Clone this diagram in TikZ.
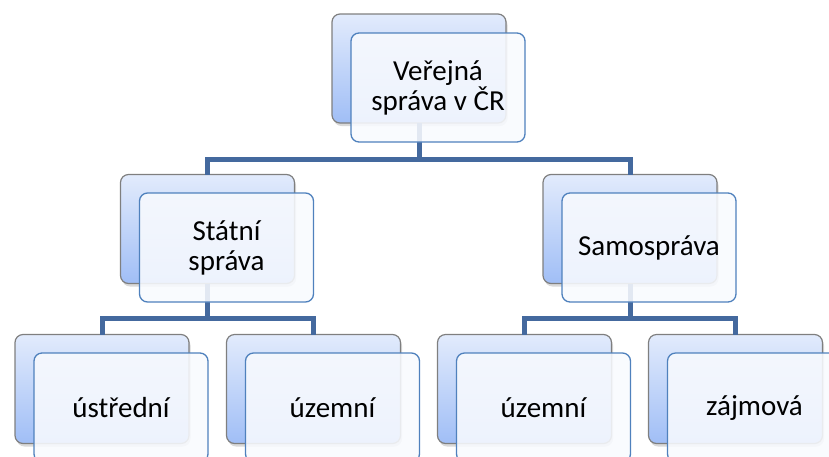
\documentclass[tikz,border=0pt]{standalone}
\usepackage{fontspec}
\setmainfont{Carlito}
\usetikzlibrary{shadows}
\definecolor{linkblue}{HTML}{44699E}
\definecolor{backtop}{HTML}{E2EBFC}
\definecolor{backbot}{HTML}{A0BEF6}
\definecolor{backline}{HTML}{7F7F7F}
\definecolor{frontline}{HTML}{4F81BD}
\definecolor{frontfill}{HTML}{F8FAFE}
\tikzset{
  backbox/.style={draw=backline, line width=1.2pt, rounded corners=8pt,
    top color=backtop, bottom color=backbot,
    drop shadow={shadow xshift=1.5pt, shadow yshift=-3pt, opacity=0.3},
    minimum width=174pt, minimum height=109pt, inner sep=0pt, outer sep=0pt},
  frontbox/.style={draw=frontline, line width=1.3pt, rounded corners=8pt,
    fill=frontfill, fill opacity=0.88, text opacity=1,
    minimum width=174pt, minimum height=109pt, inner sep=0pt, outer sep=0pt,
    align=center, font=\fontsize{29}{30}\selectfont},
  link/.style={draw=linkblue, line width=5pt}
}
\begin{document}
\begin{tikzpicture}[x=1pt,y=-1pt]
\useasboundingbox (0,0) rectangle (829,456);
\clip (0,0) rectangle (829,456);
% back boxes
\node[backbox] (verejnaB) at (419,68.5) {};
\node[backbox] (statniB) at (207.5,229) {};
\node[backbox] (samoB) at (630,229) {};
\node[backbox] (ustredniB) at (102,389) {};
\node[backbox] (uzemniB) at (313.5,389) {};
\node[backbox] (uzemni2B) at (524.5,389) {};
\node[backbox] (zajmovaB) at (735.5,389) {};

% links
\draw[link] (verejnaB.south) -- ++(0,36) coordinate (bar1) -| (statniB.north);
\draw[link] (bar1) -| (samoB.north);
\draw[link] (statniB.south) -- ++(0,35) coordinate (bar2) -| (ustredniB.north);
\draw[link] (bar2) -| (uzemniB.north);
\draw[link] (samoB.south) -- ++(0,35) coordinate (bar3) -| (uzemni2B.north);
\draw[link] (bar3) -| (zajmovaB.north);

% front boxes
\node[frontbox] (verejna) at (438,87.5) {Veřejná\\správa v ČR};
\node[frontbox] (statni) at (226.5,247.5) {Státní\\správa};
\node[frontbox] (samo) at (649,247.5) {Samospráva};
\node[frontbox] (ustredni) at (121,407.5) {ústřední};
\node[frontbox] (uzemni) at (332.5,407.5) {územní};
\node[frontbox] (uzemni2) at (543.5,407.5) {územní};
\node[frontbox] (zajmova) at (754.5,407.5) {zájmová};
\end{tikzpicture}
\end{document}
